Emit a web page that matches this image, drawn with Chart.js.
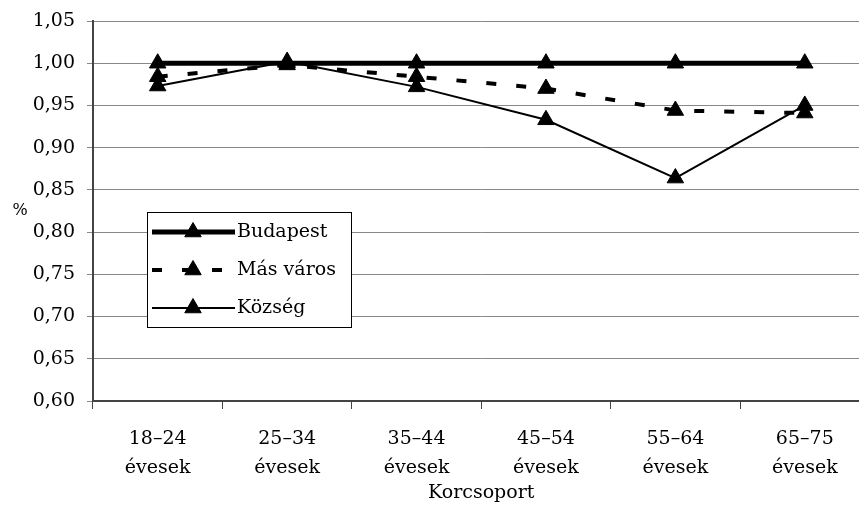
<!DOCTYPE html>
<html>
<head>
<meta charset="utf-8">
<script src="https://cdn.jsdelivr.net/npm/chart.js@4.4.1/dist/chart.umd.min.js"></script>
<style>
  html, body { margin: 0; padding: 0; overflow: hidden; background: #fff; }
</style>
</head>
<body>
<canvas id="chart" width="880" height="512"></canvas>
<script>
// Adatok
const categories = [
    ["18–24", "évesek"],
    ["25–34", "évesek"],
    ["35–44", "évesek"],
    ["45–54", "évesek"],
    ["55–64", "évesek"],
    ["65–75", "évesek"]
];
const budapest = [1.000, 1.000, 1.000, 1.000, 1.000, 1.000];
const masVaros = [0.984, 0.998, 0.984, 0.970, 0.944, 0.941];
const kozseg = [0.973, 1.002, 0.972, 0.933, 0.864, 0.950];
const yTicks = [0.60, 0.65, 0.70, 0.75, 0.80, 0.85, 0.90, 0.95, 1.00, 1.05];

const serif = "'DejaVu Serif', serif";

// Jelmagyarázat a rajzterületen belül
const innerLegend = {
    id: "innerLegend",
    afterDraw(chart) {
        const ctx = chart.ctx;
        const area = chart.chartArea;
        const x0 = area.left + 54, y0 = area.top + 191;
        const w = 204, h = 115;
        ctx.save();
        ctx.fillStyle = "#fff";
        ctx.fillRect(x0, y0, w, h);
        ctx.strokeStyle = "#000";
        ctx.lineWidth = 1;
        ctx.strokeRect(x0 + 0.5, y0 + 0.5, w, h);
        chart.data.datasets.forEach((ds, i) => {
            const y = y0 + 20 + i * 38;
            ctx.save();
            ctx.strokeStyle = ds.borderColor;
            ctx.lineWidth = ds.borderWidth;
            ctx.setLineDash(ds.borderDash || []);
            ctx.beginPath();
            ctx.moveTo(x0 + 5, y);
            ctx.lineTo(x0 + 88, y);
            ctx.stroke();
            ctx.restore();
            ctx.fillStyle = "#000";
            ctx.strokeStyle = "#000";
            ctx.lineWidth = 1;
            Chart.helpers.drawPoint(ctx, {
                pointStyle: "triangle",
                radius: ds.pointRadius,
                borderWidth: 1
            }, x0 + 46, y);
            ctx.fillStyle = "#000";
            ctx.font = "19px " + serif;
            ctx.textBaseline = "middle";
            ctx.textAlign = "left";
            ctx.fillText(ds.label, x0 + 90, y);
        });
        ctx.restore();
    }
};

// Függőleges tengely felirata (nem elforgatva)
const yTitle = {
    id: "yTitle",
    afterDraw(chart) {
        const ctx = chart.ctx;
        const area = chart.chartArea;
        ctx.save();
        ctx.fillStyle = "#000";
        ctx.font = "16px " + serif;
        ctx.textAlign = "center";
        ctx.textBaseline = "middle";
        ctx.fillText("%", 20, (area.top + area.bottom) / 2);
        ctx.restore();
    }
};

const data = {
    labels: categories,
    datasets: [
        {
            label: "Budapest",
            data: budapest,
            borderColor: "#000",
            backgroundColor: "#000",
            borderWidth: 5,
            pointStyle: "triangle",
            pointRadius: 9.5,
            pointBorderWidth: 1,
            tension: 0
        },
        {
            label: "Más város",
            data: masVaros,
            borderColor: "#000",
            backgroundColor: "#000",
            borderWidth: 4,
            borderDash: [10, 20],
            pointStyle: "triangle",
            pointRadius: 9.5,
            pointBorderWidth: 1,
            tension: 0
        },
        {
            label: "Község",
            data: kozseg,
            borderColor: "#000",
            backgroundColor: "#000",
            borderWidth: 2,
            pointStyle: "triangle",
            pointRadius: 9.5,
            pointBorderWidth: 1,
            tension: 0
        }
    ]
};

const config = {
    type: "line",
    data: data,
    options: {
        responsive: false,
        animation: false,
        layout: { padding: { top: 21, right: 7, left: 0, bottom: 0 } },
        plugins: {
            legend: { display: false },
            tooltip: { enabled: false }
        },
        scales: {
            x: {
                offset: true,
                grid: {
                    offset: true,
                    drawOnChartArea: false,
                    tickLength: 8,
                    color: "#444"
                },
                border: { display: true, color: "#444", width: 2 },
                ticks: {
                    color: "#000",
                    font: { family: serif, size: 19, lineHeight: 1.55 },
                    padding: 15,
                    maxRotation: 0
                },
                title: {
                    display: true,
                    text: "Korcsoport",
                    color: "#000",
                    font: { family: serif, size: 19 },
                    padding: { top: 0, bottom: 8 }
                },
                afterFit(scale) { scale.height = 111; }
            },
            y: {
                min: 0.60,
                max: 1.05,
                afterBuildTicks(scale) {
                    scale.ticks = yTicks.map(v => ({ value: v }));
                },
                grid: { color: "#888", lineWidth: 1, tickLength: 6 },
                border: { display: true, color: "#444", width: 2 },
                ticks: {
                    color: "#000",
                    font: { family: serif, size: 19 },
                    padding: 12,
                    callback: v => v.toFixed(2).replace(".", ",")
                },
                afterFit(scale) {
                    scale.width = 93;
                    scale.paddingTop = 12;
                    scale.paddingBottom = 12;
                }
            }
        }
    },
    plugins: [innerLegend, yTitle]
};

new Chart(document.getElementById("chart").getContext("2d"), config);
</script>
</body>
</html>
